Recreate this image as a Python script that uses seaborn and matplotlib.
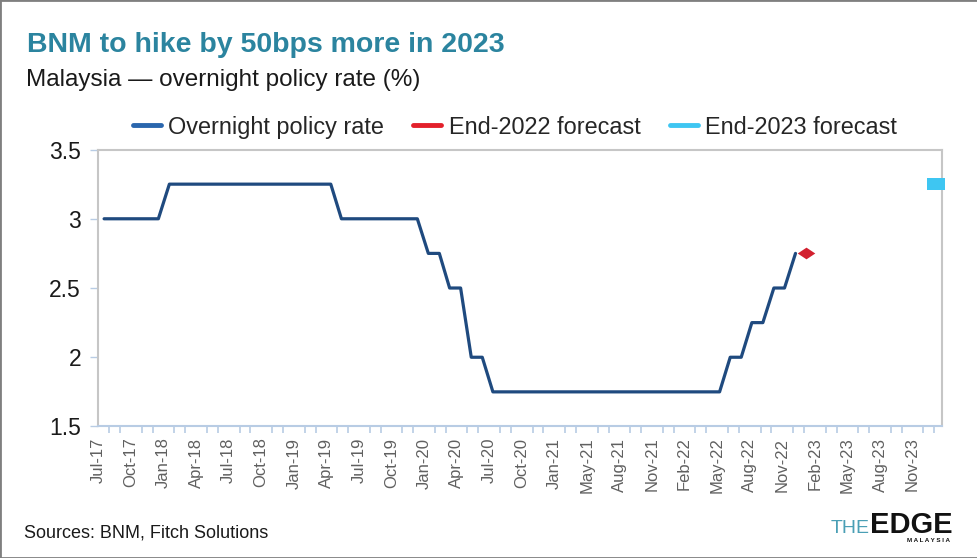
import numpy as np
import pandas as pd
import seaborn as sns
import matplotlib.pyplot as plt
import matplotlib.dates as mdates
from matplotlib.lines import Line2D
from matplotlib.patches import Rectangle
from matplotlib.ticker import FuncFormatter

# monthly overnight policy rate (%), Jul-17 .. Nov-22
opr_start = '2017-07-01'
opr = [3.00, 3.00, 3.00, 3.00, 3.00, 3.00,                                      # 2017 Jul-Dec
       3.25, 3.25, 3.25, 3.25, 3.25, 3.25, 3.25, 3.25, 3.25, 3.25, 3.25, 3.25,  # 2018
       3.25, 3.25, 3.25, 3.25, 3.00, 3.00, 3.00, 3.00, 3.00, 3.00, 3.00, 3.00,  # 2019
       2.75, 2.75, 2.50, 2.50, 2.00, 2.00, 1.75, 1.75, 1.75, 1.75, 1.75, 1.75,  # 2020
       1.75, 1.75, 1.75, 1.75, 1.75, 1.75, 1.75, 1.75, 1.75, 1.75, 1.75, 1.75,  # 2021
       1.75, 1.75, 1.75, 1.75, 2.00, 2.00, 2.25, 2.25, 2.50, 2.50, 2.75]        # 2022 Jan-Nov

# forecasts
fc22_date, fc22_val = '2022-12-01', 2.75
fc23_date, fc23_val = '2023-12-01', 3.25

x_labels = ['Jul-17', 'Oct-17', 'Jan-18', 'Apr-18', 'Jul-18', 'Oct-18', 'Jan-19',
            'Apr-19', 'Jul-19', 'Oct-19', 'Jan-20', 'Apr-20', 'Jul-20', 'Oct-20',
            'Jan-21', 'May-21', 'Aug-21', 'Nov-21', 'Feb-22', 'May-22', 'Aug-22',
            'Nov-22', 'Feb-23', 'May-23', 'Aug-23', 'Nov-23']
y_ticks = [1.5, 2, 2.5, 3, 3.5]

navy = '#1f4a7f'
red = '#d2202f'
cyan = '#3ec6f2'
teal = '#2b849f'
light_blue = '#b8cce4'
frame_grey = '#c6c6c6'

sns.set_style('white')
plt.rcParams['font.family'] = ['Liberation Sans', 'DejaVu Sans']

df = pd.DataFrame({'date': pd.date_range(opr_start, periods=len(opr), freq='MS'),
                   'rate': opr})

fig = plt.figure(figsize=(9.78, 5.58), dpi=100)
ax = fig.add_axes([0.0999, 0.2357, 0.8633, 0.4963])

sns.lineplot(data=df, x='date', y='rate', color=navy, lw=2.3, ax=ax, legend=False)

diamond = [(-1.5, 0), (0, -1), (1.5, 0), (0, 1)]
rect = [(-1.4, -1), (1.4, -1), (1.4, 1), (-1.4, 1)]
sns.scatterplot(x=pd.to_datetime([fc22_date]), y=[fc22_val], marker=diamond, s=160,
                color=red, linewidth=0, ax=ax, clip_on=False, zorder=4)
sns.scatterplot(x=pd.to_datetime([fc23_date]), y=[fc23_val], marker=rect, s=150,
                color=cyan, linewidth=0, ax=ax, clip_on=False, zorder=4)

# axis range and ticks
ax.set_xlim(pd.Timestamp('2017-06-13'), pd.Timestamp('2023-12-19'))
ax.set_ylim(1.5, 3.5)
tick0 = mdates.date2num(pd.Timestamp('2017-06-15'))
step = 91.8
ax.set_xticks(tick0 + np.arange(len(x_labels)) * step)
ax.set_xticklabels(x_labels, rotation=90)
x_end = mdates.date2num(pd.Timestamp('2023-12-19'))
ax.set_xticks(np.arange(tick0, x_end, step / 3), minor=True)
ax.set_yticks(y_ticks)
ax.yaxis.set_major_formatter(FuncFormatter(lambda v, p: f'{v:g}'))
ax.set_xlabel('')
ax.set_ylabel('')

ax.tick_params(bottom=True, left=True, which='both')
ax.tick_params(axis='x', which='major', length=0, pad=8, labelsize=12, labelcolor='#606060')
ax.tick_params(axis='x', which='minor', length=5, width=1.2, color=light_blue)
ax.tick_params(axis='y', length=6, width=1, color=light_blue, pad=6,
               labelsize=16.5, labelcolor='#1a1a1a')

for side in ['left', 'top', 'right']:
    ax.spines[side].set_color(frame_grey)
    ax.spines[side].set_linewidth(1.5)
ax.spines['bottom'].set_color(light_blue)
ax.spines['bottom'].set_linewidth(1.5)

handles = [Line2D([], [], color='#2a66ad', lw=3.5),
           Line2D([], [], color='#e3202b', lw=3.5),
           Line2D([], [], color=cyan, lw=3.5)]
ax.legend(handles, ['Overnight policy rate', 'End-2022 forecast', 'End-2023 forecast'],
          loc='center', bbox_to_anchor=(0.494, 1.081), ncol=3, frameon=False,
          fontsize=16.9, handlelength=1.2, handletextpad=0.3, columnspacing=1.25,
          borderaxespad=0)

# titles and footer
fig.text(0.0275, 0.907, 'BNM to hike by 50bps more in 2023', fontsize=20.5,
         fontweight='bold', color=teal, va='baseline')
fig.text(0.0265, 0.846, 'Malaysia \u2014 overnight policy rate (%)', fontsize=17.5,
         color='#1a1a1a', va='baseline')
fig.text(0.0245, 0.0376, 'Sources: BNM, Fitch Solutions', fontsize=13,
         color='#1a1a1a', va='baseline')

# logo
fig.text(870 / 978, 1 - 533 / 558, 'THE', fontsize=14, color='#4a9fb5',
         ha='right', va='baseline')
fig.text(870 / 978, 1 - 533 / 558, 'EDGE', fontsize=21, fontweight='heavy',
         color='#111111', ha='left', va='baseline')
fig.text(929 / 978, 1 - 542 / 558, 'M A L A Y S I A', fontsize=4.5, fontweight='bold',
         color='#111111', ha='center', va='baseline')

fig.patches.append(Rectangle((0, 0), 1, 1, transform=fig.transFigure, fill=False,
                             ec='#7f7f7f', lw=2))

fig.savefig('out.png', dpi=100)
